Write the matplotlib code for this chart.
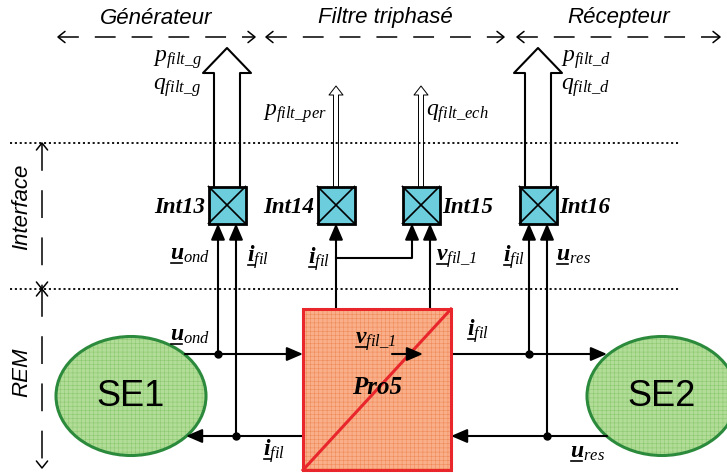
import numpy as np
import matplotlib
matplotlib.use('Agg')
import matplotlib.pyplot as plt
from matplotlib.patches import Rectangle, Ellipse

plt.rcParams['mathtext.fontset'] = 'custom'
plt.rcParams['mathtext.it'] = 'Liberation Serif:italic'
plt.rcParams['mathtext.rm'] = 'Liberation Serif:italic'
plt.rcParams['mathtext.bf'] = 'Liberation Serif:bold:italic'
plt.rcParams['lines.scale_dashes'] = False
plt.rcParams['hatch.linewidth'] = 0.4

# zones du haut (texte, debut, fin)
zone_labels = ['Générateur', 'Filtre triphasé', 'Récepteur']
zone_x0 = [58, 266, 517]
zone_x1 = [255, 504, 720]
zone_y = 37

# zones de gauche
side_labels = ['Interface', 'REM']
side_y0 = [143, 289]
side_y1 = [289, 468]
side_text_y = [207, 372]
side_x = 42

# blocs d'interface
int_labels = ['Int13', 'Int14', 'Int15', 'Int16']
int_x = [227, 336, 421, 538]
int_side = ['left', 'left', 'right', 'right']
int_out = ['big', 'thin', 'thin', 'big']
int_y = 205
box = 37

# sources et processeur
se_labels = ['SE1', 'SE2']
se_x = [131, 662]
se_y = 396
pro_label = 'Pro5'
pro_x0, pro_x1, pro_y0, pro_y1 = 303, 451, 309, 470
y_haut, y_bas = 354, 436

# variables (lettre, indice, x, y, soulignee)
var_list = [
    ('p', r'filt\_g', 153, 62, False),
    ('q', r'filt\_g', 153, 90, False),
    ('p', r'filt\_d', 561, 62, False),
    ('q', r'filt\_d', 561, 90, False),
    ('p', r'filt\_per', 263, 116, False),
    ('q', r'filt\_ech', 426, 116, False),
    ('u', 'ond', 170, 260, True),
    ('i', 'fil', 247, 262, True),
    ('i', 'fil', 308, 264, True),
    ('v', r'fil\_1', 436, 261, True),
    ('i', 'fil', 503, 262, True),
    ('u', 'res', 556, 261, True),
    ('u', 'ond', 170, 341, True),
    ('i', 'fil', 467, 336, True),
    ('i', 'fil', 263, 456, True),
    ('u', 'res', 570, 458, True),
    ('v', r'fil\_1', 355, 344, True),
]

fig = plt.figure(figsize=(7.27, 4.73), dpi=100)
ax = fig.add_axes([0, 0, 1, 1])
ax.set_xlim(0, 727)
ax.set_ylim(473, 0)
ax.axis('off')

serif = 'Liberation Serif'
sans = 'Liberation Sans'


def chevron(x, y, dx, dy, s=7):
    # petite pointe ouverte en (x, y), direction (dx, dy)
    px, py = -dy, dx
    ax.plot([x - dx * s + px * s * 0.8, x, x - dx * s - px * s * 0.8],
            [y - dy * s + py * s * 0.8, y, y - dy * s - py * s * 0.8],
            color='k', lw=1.1, solid_capstyle='round')


def fleche(x0, y0, x1, y1):
    ax.annotate('', xy=(x1, y1), xytext=(x0, y0),
                arrowprops=dict(arrowstyle='-|>,head_length=0.65,head_width=0.28',
                                mutation_scale=15, lw=1.5, color='k',
                                shrinkA=0, shrinkB=0))


def var(base, sub, x, y, under, size=17):
    if under:
        s = r'$\mathbf{%s}_{%s}$' % (base, sub)
    else:
        s = r'$%s_{%s}$' % (base, sub)
    ax.text(x, y, s, fontsize=size, ha='left', va='baseline', zorder=6)
    if under:
        w = 11 if base != 'i' else 7
        ax.plot([x + 1, x + 1 + w], [y + 3, y + 3], color='k', lw=1.2, zorder=6)


# fleches pointillees du haut
for lab, a, b in zip(zone_labels, zone_x0, zone_x1):
    ax.plot([a, b], [zone_y, zone_y], color='k', lw=1.1, ls=(0, (15, 11.5)))
    chevron(a, zone_y, -1, 0)
    chevron(b, zone_y, 1, 0)
    ax.text((a + b) / 2, 18, lab, fontsize=16, style='italic', family=sans,
            ha='center', va='center')

# lignes pointillees horizontales
for yy in side_y0:
    ax.plot([10, 680], [yy, yy], color='k', lw=1.3, ls=(0, (1.5, 2)))

# fleches de gauche
for lab, a, b, ty in zip(side_labels, side_y0, side_y1, side_text_y):
    ax.plot([side_x, side_x], [a, b], color='k', lw=1.1, ls=(0, (20, 14)))
    chevron(side_x, a, 0, -1)
    chevron(side_x, b, 0, 1)
    ax.text(22, ty, lab, fontsize=16, style='italic', family=sans,
            rotation=90, ha='center', va='center')

# sources
for lab, cx in zip(se_labels, se_x):
    ax.add_patch(Ellipse((cx, se_y), 150, 119, facecolor='#b2dd98', edgecolor='none', zorder=2))
    ax.add_patch(Ellipse((cx, se_y), 150, 119, facecolor='none', edgecolor='#8cc870',
                         hatch='++++', lw=0, zorder=2))
    ax.add_patch(Ellipse((cx, se_y), 150, 119, facecolor='none', edgecolor='#2c8a3c',
                         lw=2.2, zorder=3))
    ax.text(cx, se_y, lab, fontsize=26, family=sans, ha='center', va='center', zorder=4)

# echanges SE1 / Pro5 / SE2
fleche(185, y_haut, pro_x0, y_haut)
fleche(pro_x1, y_haut, 607, y_haut)
fleche(pro_x0, y_bas, 186, y_bas)
fleche(607, y_bas, pro_x1, y_bas)

# processeur
w, h = pro_x1 - pro_x0, pro_y1 - pro_y0
ax.add_patch(Rectangle((pro_x0, pro_y0), w, h, facecolor='#f9b08a', edgecolor='none', zorder=4))
ax.add_patch(Rectangle((pro_x0, pro_y0), w, h, facecolor='none', edgecolor='#f08a5a',
                       hatch='++++', lw=0, zorder=4))
ax.add_patch(Rectangle((pro_x0, pro_y0), w, h, facecolor='none', edgecolor='#e8262c',
                       lw=2.2, zorder=5))
ax.plot([pro_x0, pro_x1], [pro_y1, pro_y0], color='#e8262c', lw=2.2, zorder=5)
ax.text((pro_x0 + pro_x1) / 2, 387, pro_label, fontsize=18, family=serif,
        style='italic', weight='bold', ha='center', va='center', zorder=6)
ax.annotate('', xy=(423, 354), xytext=(392, 354), zorder=6,
            arrowprops=dict(arrowstyle='-|>,head_length=0.65,head_width=0.28',
                            mutation_scale=15, lw=1.5, color='k', shrinkA=0, shrinkB=0))

# blocs d'interface
bot = int_y + box / 2
top = int_y - box / 2
for lab, cx, side, out in zip(int_labels, int_x, int_side, int_out):
    x0 = cx - box / 2
    ax.add_patch(Rectangle((x0, top), box, box, facecolor='#6ccddc', edgecolor='k',
                           lw=2, zorder=4))
    ax.plot([x0, x0 + box], [top, bot], color='k', lw=1.2, zorder=5)
    ax.plot([x0, x0 + box], [bot, top], color='k', lw=1.2, zorder=5)
    if side == 'left':
        ax.text(x0 - 3, int_y + 2, lab, fontsize=16.5, family=serif, style='italic',
                weight='bold', ha='right', va='center')
    else:
        ax.text(x0 + box + 3, int_y + 2, lab, fontsize=16.5, family=serif, style='italic',
                weight='bold', ha='left', va='center')
    if out == 'big':
        ax.plot([cx - 13, cx - 13, cx - 24, cx, cx + 24, cx + 13, cx + 13],
                [top, 73, 73, 48, 73, 73, top], color='k', lw=1.5, zorder=3)
    else:
        ax.plot([cx - 2.5, cx - 2.5, cx - 7, cx, cx + 7, cx + 2.5, cx + 2.5],
                [top, 95, 95, 86, 95, 95, top], color='k', lw=0.7, zorder=3)

# liaisons vers les blocs d'interface
c13, c14, c15, c16 = int_x
ax.plot([c13 - 9, c13 - 9], [y_haut, bot + 12], color='k', lw=1.5)
fleche(c13 - 9, bot + 13, c13 - 9, bot)
ax.plot([c13 + 9, c13 + 9], [y_bas, bot + 12], color='k', lw=1.5)
fleche(c13 + 9, bot + 13, c13 + 9, bot)
ax.plot([c16 - 9, c16 - 9], [y_haut, bot + 12], color='k', lw=1.5)
fleche(c16 - 9, bot + 13, c16 - 9, bot)
ax.plot([c16 + 9, c16 + 9], [y_bas, bot + 12], color='k', lw=1.5)
fleche(c16 + 9, bot + 13, c16 + 9, bot)
ax.plot([c14, c14], [pro_y0, bot + 12], color='k', lw=1.5)
fleche(c14, bot + 13, c14, bot)
ax.plot([c14, c15 - 9, c15 - 9], [258, 258, bot + 12], color='k', lw=1.5)
fleche(c15 - 9, bot + 13, c15 - 9, bot)
ax.plot([c15 + 9, c15 + 9], [pro_y0, bot + 12], color='k', lw=1.5)
fleche(c15 + 9, bot + 13, c15 + 9, bot)

# points de jonction
ax.plot([c13 - 9, c16 - 9], [y_haut, y_haut], 'ko', ms=5, zorder=6)
ax.plot([c13 + 9, c16 + 9], [y_bas, y_bas], 'ko', ms=5, zorder=6)

for base, sub, x, y, under in var_list:
    var(base, sub, x, y, under)

fig.savefig('out.png', dpi=100)
